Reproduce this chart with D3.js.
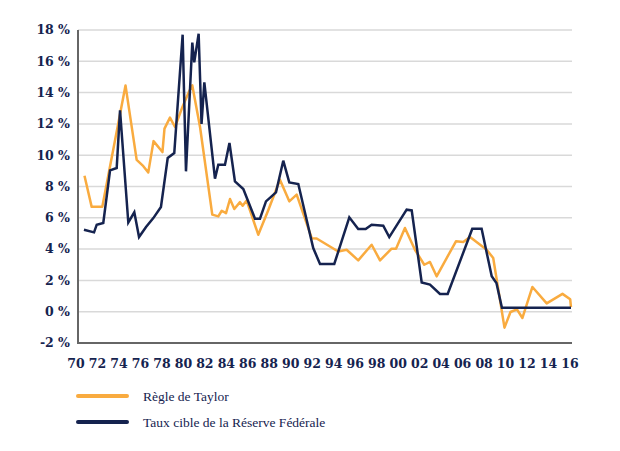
<!DOCTYPE html>
<html><head><meta charset="utf-8">
<script src="https://cdn.jsdelivr.net/npm/d3@7"></script>
<style>body{margin:0;background:#fff}svg{display:block}</style>
</head><body>
<script>
const taylorYears = [1970.79,1971.46,1972.45,1974.61,1975.65,1976.27,1976.73,1977.22,1978.05,1978.24,1978.75,1979.22,1979.92,1980.55,1980.83,1981.55,1982.69,1983.25,1983.57,1983.97,1984.34,1984.74,1985.27,1985.52,1985.89,1986.97,1987.91,1988.99,1989.86,1990.55,1991.95,1992.41,1994.42,1995.20,1996.28,1997.53,1998.31,1999.39,1999.80,2000.63,2001.56,2002.43,2002.96,2003.58,2005.38,2006.06,2006.69,2008.24,2008.85,2009.90,2010.46,2011.06,2011.57,2012.50,2013.83,2015.30,2016.02,2016.09];
const taylorValues = [8.69,6.7,6.7,14.46,9.7,9.3,8.9,10.9,10.2,11.7,12.4,11.8,13.1,14.1,14.46,11.8,6.2,6.09,6.45,6.3,7.2,6.56,7.0,6.77,7.1,4.92,6.5,8.43,7.05,7.48,4.7,4.68,3.85,3.96,3.28,4.28,3.28,4.03,4.03,5.35,3.96,3.0,3.18,2.26,4.5,4.45,4.77,3.96,3.43,-1.02,-0.02,0.15,-0.4,1.58,0.53,1.14,0.79,0.3];
const fedYears = [1970.74,1971.68,1971.93,1972.54,1973.17,1973.79,1974.10,1974.87,1975.43,1975.87,1976.52,1977.20,1977.91,1978.54,1979.15,1979.93,1980.24,1980.83,1981.01,1981.42,1981.69,1981.95,1982.94,1983.25,1983.87,1984.29,1984.80,1985.58,1986.67,1987.13,1987.69,1988.62,1989.30,1989.86,1990.70,1992.09,1992.72,1994.05,1995.45,1996.28,1996.97,1997.53,1998.61,1999.17,2000.79,2001.26,2002.19,2002.96,2003.89,2004.61,2006.90,2007.77,2008.71,2009.15,2009.66,2016.09];
const fedValues = [5.24,5.07,5.56,5.67,9.03,9.18,12.86,5.7,6.35,4.77,5.41,5.98,6.69,9.82,10.14,17.7,8.97,17.2,15.93,17.76,12.0,14.65,8.5,9.39,9.39,10.78,8.33,7.84,5.94,5.94,7.05,7.62,9.65,8.26,8.16,4.07,3.05,3.05,6.03,5.28,5.28,5.56,5.49,4.77,6.52,6.47,1.87,1.73,1.13,1.13,5.3,5.3,2.26,1.83,0.25,0.25];
const yTicks = [-2,0,2,4,6,8,10,12,14,16,18];
const xTicks = d3.range(1970, 2017, 2);
const seriesNames = ["Règle de Taylor","Taux cible de la Réserve Fédérale"];
const seriesColors = ["#F9AB3F","#15234F"];

(function(){
const W=620,H=451;
const pL=78,pR=572,pT=30,pB=343;
const svg=d3.select("body").append("svg").attr("width",W).attr("height",H);
const x=d3.scaleLinear().domain([1970,2016]).range([76,570]);
const y=d3.scaleLinear().domain([-2,18]).range([pB,pT]);
const navy="#15234F";
const tickFont="'DejaVu Serif','Liberation Serif',serif";

svg.append("g").selectAll("line").data(yTicks.filter(d=>d>-2)).join("line")
  .attr("x1",pL).attr("x2",pR).attr("y1",d=>y(d)).attr("y2",d=>y(d))
  .attr("stroke","#d9d9d9").attr("stroke-width",1.5);

svg.append("g").selectAll("text").data(yTicks).join("text")
  .attr("x",70).attr("y",d=>y(d)).attr("dy","0.35em").attr("text-anchor","end")
  .attr("font-family",tickFont).attr("font-weight","bold")
  .attr("font-size",12.5).attr("fill",navy).text(d=>d+" %");

svg.append("g").selectAll("text").data(xTicks).join("text")
  .attr("x",d=>x(d)).attr("y",364).attr("dy","0.35em").attr("text-anchor","middle")
  .attr("font-family",tickFont).attr("font-weight","bold")
  .attr("font-size",12.5).attr("fill",navy).text(d=>String(d%100).padStart(2,"0"));

svg.append("line").attr("x1",pL).attr("x2",pL).attr("y1",pT).attr("y2",pB)
  .attr("stroke","#666").attr("stroke-width",2);
svg.append("line").attr("x1",pL-1).attr("x2",pR).attr("y1",pB).attr("y2",pB)
  .attr("stroke","#666").attr("stroke-width",2);

const line=d3.line().x(d=>x(d[0])).y(d=>y(d[1]));
const taylor=d3.zip(taylorYears,taylorValues);
const fed=d3.zip(fedYears,fedValues);
svg.append("path").datum(taylor).attr("d",line).attr("fill","none")
  .attr("stroke",seriesColors[0]).attr("stroke-width",2.5).attr("stroke-linejoin","round");
svg.append("path").datum(fed).attr("d",line).attr("fill","none")
  .attr("stroke",seriesColors[1]).attr("stroke-width",2.5).attr("stroke-linejoin","miter");

const lg=svg.append("g").selectAll("g").data(seriesNames).join("g")
  .attr("transform",(d,i)=>`translate(0,${396+i*26})`);
lg.append("line").attr("x1",78).attr("x2",127).attr("y1",0).attr("y2",0)
  .attr("stroke",(d,i)=>seriesColors[i]).attr("stroke-width",4).attr("stroke-linecap","round");
lg.append("text").attr("x",143).attr("y",0).attr("dy","0.35em")
  .attr("font-family","'Liberation Serif','DejaVu Serif',serif").attr("font-size",13.5)
  .attr("fill",navy).text(d=>d);
})();
</script>
</body></html>
